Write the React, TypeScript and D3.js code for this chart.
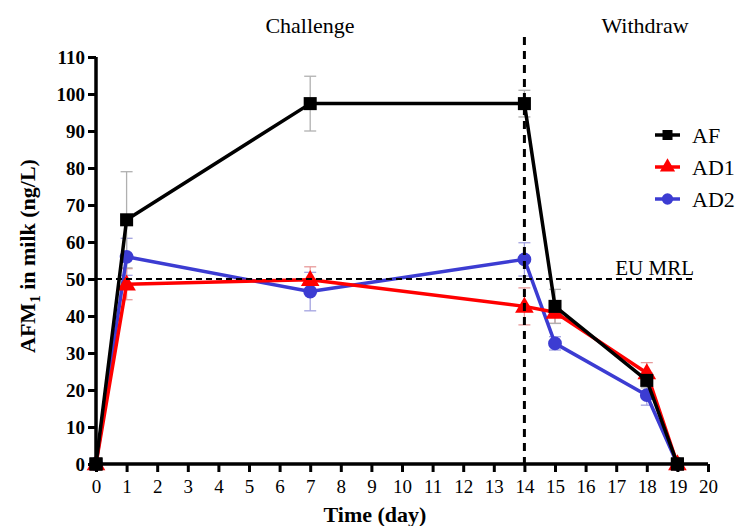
import React, { useRef, useEffect } from 'react';
import * as d3 from 'd3';

// days sampled
const days = [0, 1, 7, 14, 15, 18, 19];

// mean AFM1 values (ng/L)
const afValues = [0, 66, 97.4, 97.4, 42.6, 22.6, 0];
const ad1Values = [0, 48.6, 49.8, 42.6, 41, 24.6, 0];
const ad2Values = [0, 56, 46.6, 55.3, 32.6, 18.6, 0];

// standard deviations
const afErr = [0, 13, 7.4, 3.6, 4.6, 2, 0];
const ad1Err = [0, 4.2, 3.5, 5, 3, 2.8, 0];
const ad2Err = [0, 5, 5.2, 4.5, 1.8, 2.7, 0];

const xTicks = d3.range(0, 21);
const yTicks = d3.range(0, 111, 10);
const mrl = 50;
const phaseSplit = 14;

const series = [
  { name: 'AD2', values: ad2Values, err: ad2Err, color: '#3c3cd2', errColor: '#a3a3e0', shape: 'circle' },
  { name: 'AD1', values: ad1Values, err: ad1Err, color: '#ff0000', errColor: '#e89a9a', shape: 'triangle' },
  { name: 'AF', values: afValues, err: afErr, color: '#000000', errColor: '#b0b0b0', shape: 'square' },
];

const App = () => {
  const ref = useRef<SVGSVGElement | null>(null);

  useEffect(() => {
    if (!ref.current) return;
    const svg = d3.select(ref.current);
    svg.selectAll('*').remove();

    const font = '"Liberation Serif", "DejaVu Serif", serif';
    const x = d3.scaleLinear().domain([0, 20]).range([96, 708]);
    const y = d3.scaleLinear().domain([0, 110]).range([464, 57]);

    const symbolFor = (shape: string, size: number) => {
      const t = shape === 'circle' ? d3.symbolCircle : shape === 'triangle' ? d3.symbolTriangle : d3.symbolSquare;
      return d3.symbol().type(t).size(size)();
    };

    // error bars
    series.forEach(s => {
      const g = svg.append('g');
      days.forEach((d, i) => {
        if (!s.err[i]) return;
        const cx = x(d);
        const lo = y(s.values[i] - s.err[i]);
        const hi = y(s.values[i] + s.err[i]);
        g.append('line').attr('x1', cx).attr('x2', cx).attr('y1', lo).attr('y2', hi)
          .attr('stroke', s.errColor).attr('stroke-width', 1.3);
        [lo, hi].forEach(yy => g.append('line').attr('x1', cx - 6).attr('x2', cx + 6)
          .attr('y1', yy).attr('y2', yy).attr('stroke', s.errColor).attr('stroke-width', 1.3));
      });
    });

    // lines + markers
    const line = d3.line<number>().x((_, i) => x(days[i])).y(v => y(v));
    series.forEach(s => {
      svg.append('path').datum(s.values).attr('d', line).attr('fill', 'none')
        .attr('stroke', s.color).attr('stroke-width', 3.5).attr('stroke-linejoin', 'round');
      svg.append('g').selectAll('path').data(s.values).enter().append('path')
        .attr('d', symbolFor(s.shape, s.shape === 'square' ? 170 : 150))
        .attr('transform', (v, i) => `translate(${x(days[i])},${y(v) + (s.shape === 'triangle' ? 1 : 0)})`)
        .attr('fill', s.color);
    });

    // reference lines
    svg.append('line').attr('x1', x(0)).attr('x2', 693).attr('y1', y(mrl)).attr('y2', y(mrl))
      .attr('stroke', '#000').attr('stroke-width', 2).attr('stroke-dasharray', '6,4');
    svg.append('line').attr('x1', x(phaseSplit)).attr('x2', x(phaseSplit)).attr('y1', 37).attr('y2', y(0))
      .attr('stroke', '#000').attr('stroke-width', 3).attr('stroke-dasharray', '8,6');
    svg.append('text').attr('x', 694).attr('y', 275).attr('text-anchor', 'end')
      .attr('font-family', font).attr('font-size', 21).text('EU MRL');

    // axes
    const xAxis = svg.append('g').attr('transform', `translate(0,${y(0)})`)
      .call(d3.axisBottom(x).tickValues(xTicks).tickSize(8).tickPadding(8).tickFormat(d3.format('d')));
    xAxis.select('.domain').attr('stroke-width', 3.5).attr('d', `M${x(0)},0H${x(20)}`);
    xAxis.selectAll('.tick line').attr('stroke-width', 3);
    xAxis.selectAll('.tick text').attr('font-family', font).attr('font-size', 19).attr('fill', '#000');

    const yAxis = svg.append('g').attr('transform', `translate(${x(0)},0)`)
      .call(d3.axisLeft(y).tickValues(yTicks).tickSize(8).tickPadding(3));
    yAxis.select('.domain').attr('stroke-width', 3.5).attr('d', `M0,${y(0)}V${y(110)}`);
    yAxis.selectAll('.tick line').attr('stroke-width', 3);
    yAxis.selectAll('.tick text').attr('font-family', font).attr('font-size', 19)
      .attr('font-weight', 'bold').attr('fill', '#000');

    // markers at origin drawn over the axes
    svg.append('path').attr('d', symbolFor('square', 170)).attr('transform', `translate(${x(0)},${y(0)})`);
    svg.append('path').attr('d', symbolFor('square', 170)).attr('transform', `translate(${x(19)},${y(0)})`);

    // titles
    svg.append('text').attr('x', 375).attr('y', 522).attr('text-anchor', 'middle')
      .attr('font-family', font).attr('font-size', 22).attr('font-weight', 'bold').text('Time (day)');
    const yt = svg.append('text').attr('transform', 'translate(35,256) rotate(-90)').attr('text-anchor', 'middle')
      .attr('font-family', font).attr('font-size', 22).attr('font-weight', 'bold');
    yt.append('tspan').text('AFM');
    yt.append('tspan').attr('font-size', 15).attr('dy', 5).text('1');
    yt.append('tspan').attr('dy', -5).text(' in milk (ng/L)');

    svg.append('text').attr('x', 310).attr('y', 33).attr('text-anchor', 'middle')
      .attr('font-family', font).attr('font-size', 22).text('Challenge');
    svg.append('text').attr('x', 645).attr('y', 33).attr('text-anchor', 'middle')
      .attr('font-family', font).attr('font-size', 22).text('Withdraw');

    // legend
    const legend = [...series].reverse();
    legend.forEach((s, i) => {
      const ly = 135 + i * 32;
      svg.append('line').attr('x1', 655).attr('x2', 680).attr('y1', ly).attr('y2', ly)
        .attr('stroke', s.color).attr('stroke-width', 3.5);
      svg.append('path').attr('d', symbolFor(s.shape, 100)).attr('transform', `translate(667.5,${ly})`).attr('fill', s.color);
      svg.append('text').attr('x', 692).attr('y', ly + 8).attr('font-family', font).attr('font-size', 22).text(s.name);
    });
  }, []);

  return <svg ref={ref} width={739} height={526} style={{ display: 'block', position: 'absolute', left: 0, top: 0 }} />;
};

export default App;
